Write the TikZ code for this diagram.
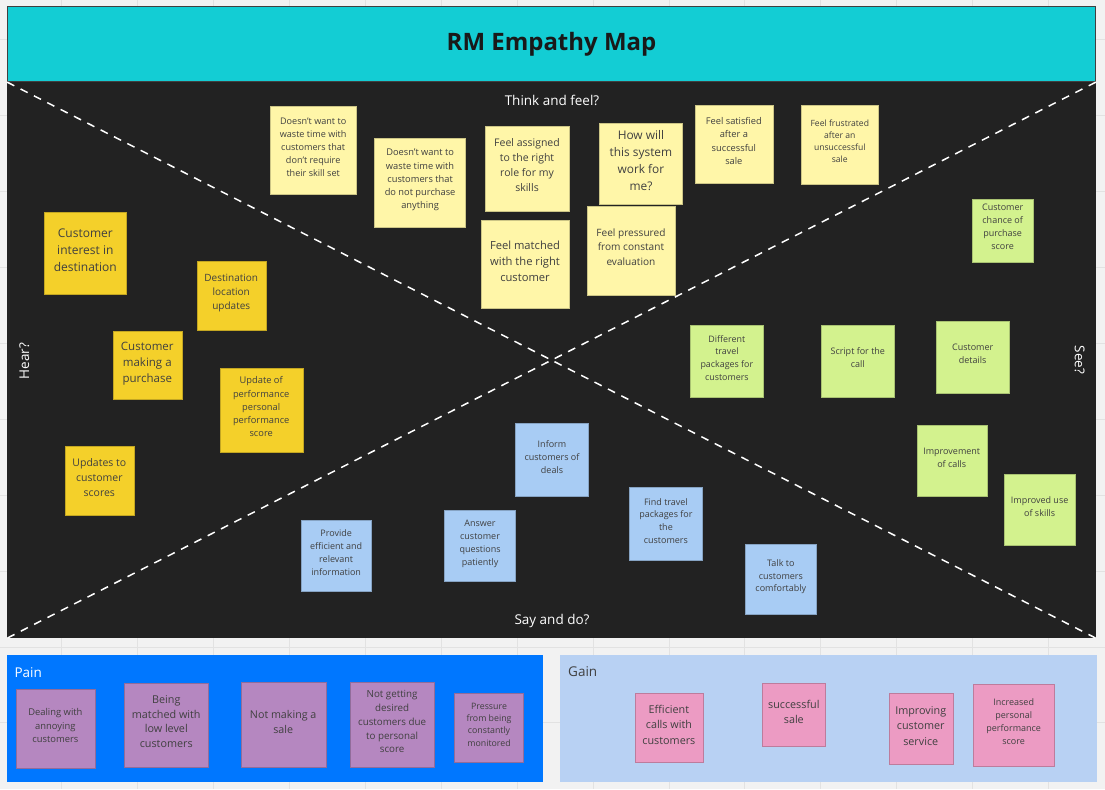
\documentclass[tikz,border=0pt]{standalone}
\usepackage{fontspec}
\setmainfont{Open Sans}
\usetikzlibrary{shadows}

\definecolor{board}{HTML}{F2F2F2}
\definecolor{gridline}{HTML}{E2E2E2}
\definecolor{titlecyan}{HTML}{13CDD4}
\definecolor{slate}{HTML}{222222}
\definecolor{lemon}{HTML}{FFF6A8}
\definecolor{mustard}{HTML}{F4D02A}
\definecolor{lime}{HTML}{D3F28E}
\definecolor{sky}{HTML}{A8CCF4}
\definecolor{lilac}{HTML}{B587C0}
\definecolor{rose}{HTML}{EC9BC3}
\definecolor{painblue}{HTML}{0077FF}
\definecolor{gainblue}{HTML}{B8D1F3}
\definecolor{ink}{HTML}{404040}

\begin{document}
\begin{tikzpicture}[x=1pt, y=-1pt,
    every node/.style={inner sep=0pt, align=center},
    sticky/.style={fill=#1, draw=#1!80!black, line width=.3pt, text=ink, text depth=6.5pt,
      drop shadow={shadow xshift=0pt, shadow yshift=-3pt, shadow scale=.92, opacity=.3}},
    notesize/.style 2 args={minimum width=#1pt, minimum height=#2pt},
    fs/.style 2 args={font=\fontsize{#1pt}{#2pt}\selectfont},
    heading/.style={text=white, font=\fontsize{13.5pt}{16pt}\selectfont}]
  % board
  \fill[board] (0,0) rectangle (1105,789);
  \foreach \x in {61,137,...,1100} \draw[gridline, line width=.8pt] (\x,0) -- (\x,789);
  \foreach \y in {39,115,...,789} \draw[gridline, line width=.8pt] (0,\y) -- (1105,\y);
  \useasboundingbox (0,0) rectangle (1105,789);

  % map
  \node[fill=titlecyan, draw=black!75, line width=1.2pt, minimum width=1089pt, minimum height=75pt,
    font=\fontsize{24pt}{29pt}\bfseries\selectfont, text=black!90] (title) at (551.5,43.5) {RM Empathy Map};
  \node[fill=slate, minimum width=1089pt, minimum height=556pt] (panel) at (551.5,360) {};
  \draw[white, line width=1.5pt, dash pattern=on 8pt off 7pt] (panel.north west) -- (panel.south east);
  \draw[white, line width=1.5pt, dash pattern=on 8pt off 7pt] (panel.north east) -- (panel.south west);

  \node[heading] (think) at (552,100) {Think and feel?};
  \node[heading] (say) at (552,621) {Say and do?};
  \node[heading, rotate=90] (hear) at (24,361) {Hear?};
  \node[heading, rotate=-90] (see) at (1080,360) {See?};

  % think and feel
  \node[sticky=lemon, notesize={87}{88}, fs={9.1}{13}] (feel 1) at (313,150) {Doesn't want to\\waste time with\\customers that\\don't require\\their skill set};
  \node[sticky=lemon, notesize={91}{89}, fs={9.3}{13.3}] (feel 2) at (420,182) {Doesn't want to\\waste time with\\customers that\\do not purchase\\anything};
  \node[sticky=lemon, notesize={84}{85}, fs={10.5}{15}] (feel 3) at (527,168) {Feel assigned\\to the right\\role for my\\skills};
  \node[sticky=lemon, notesize={83}{81}, fs={11.9}{17}] (feel 4) at (641,163) {How will\\this system\\work for\\me?};
  \node[sticky=lemon, notesize={88}{88}, fs={11.2}{16}] (feel 5) at (525,264) {Feel matched\\with the right\\customer};
  \node[sticky=lemon, notesize={88}{89}, fs={10.1}{14.5}] (feel 6) at (631,250) {Feel pressured\\from constant\\evaluation};
  \node[sticky=lemon, notesize={78}{78}, fs={9.3}{13.3}] (feel 7) at (734,144) {Feel satisfied\\after a\\successful\\sale};
  \node[sticky=lemon, notesize={77}{79}, fs={8.6}{12}] (feel 8) at (840,144) {Feel frustrated\\after an\\unsuccessful\\sale};

  % hear
  \node[sticky=mustard, notesize={82}{82}, fs={12}{17}] (hear 1) at (85,253) {Customer\\interest in\\destination};
  \node[sticky=mustard, notesize={69}{69}, fs={10}{14}] (hear 2) at (231,295) {Destination\\location\\updates};
  \node[sticky=mustard, notesize={69}{69}, fs={11.5}{16}] (hear 3) at (147,365) {Customer\\making a\\purchase};
  \node[sticky=mustard, notesize={83}{84}, fs={9.3}{13.3}] (hear 4) at (261,410) {Update of\\performance\\personal\\performance\\score};
  \node[sticky=mustard, notesize={69}{69}, fs={10.5}{15}] (hear 5) at (99,481) {Updates to\\customer\\scores};

  % see
  \node[sticky=lime, notesize={61}{63}, fs={9}{13}] (see 1) at (1003,230) {Customer\\chance of\\purchase\\score};
  \node[sticky=lime, notesize={73}{73}, fs={8.9}{12.7}] (see 2) at (727,361) {Different\\travel\\packages for\\customers};
  \node[sticky=lime, notesize={73}{73}, fs={9}{12.7}] (see 3) at (858,361) {Script for the\\call};
  \node[sticky=lime, notesize={73}{73}, fs={9}{12.7}] (see 4) at (973,357) {Customer\\details};
  \node[sticky=lime, notesize={70}{71}, fs={9}{12.7}] (see 5) at (952,461) {Improvement\\of calls};
  \node[sticky=lime, notesize={72}{71}, fs={9}{12.7}] (see 6) at (1040,510) {Improved use\\of skills};

  % say and do
  \node[sticky=sky, notesize={73}{73}, fs={9}{12.8}] (say 1) at (552,460) {Inform\\customers of\\deals};
  \node[sticky=sky, notesize={70}{71}, fs={9}{12.8}] (say 2) at (336,556) {Provide\\efficient and\\relevant\\information};
  \node[sticky=sky, notesize={71}{71}, fs={9}{12.8}] (say 3) at (480,546) {Answer\\customer\\questions\\patiently};
  \node[sticky=sky, notesize={73}{73}, fs={9}{12.8}] (say 4) at (666,524) {Find travel\\packages for\\the\\customers};
  \node[sticky=sky, notesize={71}{70}, fs={9}{12.8}] (say 5) at (781,579) {Talk to\\customers\\comfortably};

  % pain
  \node[fill=painblue, minimum width=536pt, minimum height=127pt] (pain) at (275,718.5) {};
  \node[heading, anchor=west] (pain title) at (14,673) {Pain};
  \node[sticky=lilac, notesize={79}{79}, fs={9.4}{13.5}] (pain 1) at (55,729) {Dealing with\\annoying\\customers};
  \node[sticky=lilac, notesize={84}{84}, fs={10.8}{14.7}] (pain 2) at (166,725) {Being\\matched with\\low level\\customers};
  \node[sticky=lilac, notesize={85}{85}, fs={10.7}{15}] (pain 3) at (283,725) {Not making a\\sale};
  \node[sticky=lilac, notesize={85}{85}, fs={9.8}{13.8}] (pain 4) at (392,725) {Not getting\\desired\\customers due\\to personal\\score};
  \node[sticky=lilac, notesize={69}{69}, fs={8.8}{12.3}] (pain 5) at (489,728) {Pressure\\from being\\constantly\\monitored};

  % gain
  \node[fill=gainblue, minimum width=537pt, minimum height=127pt] (gain) at (828.5,718.5) {};
  \node[heading, text=ink, anchor=west] (gain title) at (568,672) {Gain};
  \node[sticky=rose, notesize={68}{69}, fs={10.8}{15.5}] (gain 1) at (669,728) {Efficient\\calls with\\customers};
  \node[sticky=rose, notesize={63}{63}, fs={10.8}{15.5}] (gain 2) at (794,715) {successful\\sale};
  \node[sticky=rose, notesize={64}{71}, fs={10.8}{15.5}] (gain 3) at (921,729) {Improving\\customer\\service};
  \node[sticky=rose, notesize={81}{82}, fs={9}{13}] (gain 4) at (1014,725) {Increased\\personal\\performance\\score};
\end{tikzpicture}
\end{document}
